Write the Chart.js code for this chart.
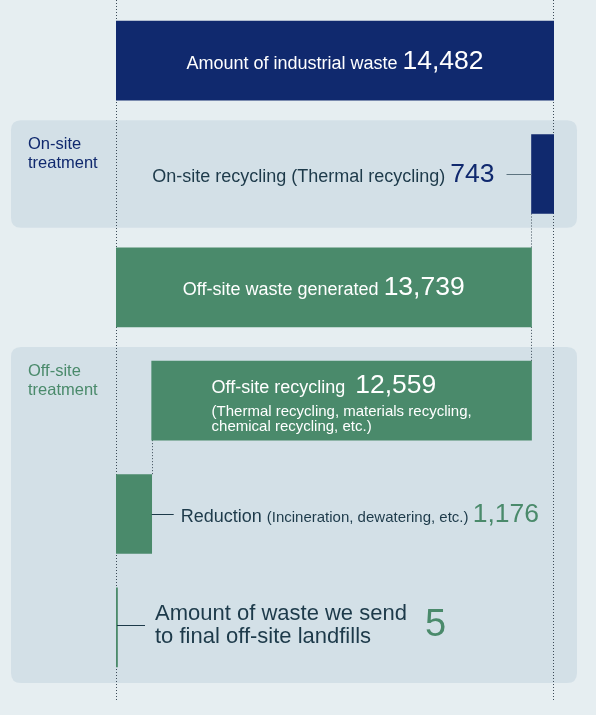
<!DOCTYPE html>
<html><head><meta charset="utf-8">
<script src="https://cdn.jsdelivr.net/npm/chart.js@4.4.1/dist/chart.umd.min.js"></script>
<style>html,body{margin:0;padding:0;background:#e6eef1;}canvas{display:block}</style>
</head><body>
<div style="width:596px;height:715px"><canvas id="c" width="596" height="715"></canvas></div>
<script>
// ---- data ----
const categories = ["Amount of industrial waste", "On-site recycling (Thermal recycling)", "Off-site waste generated", "Off-site recycling", "Reduction", "Amount of waste we send to final off-site landfills"];
const values = [14482, 743, 13739, 12559, 1176, 5];
const valueLabels = ["14,482", "743", "13,739", "12,559", "1,176", "5"];
const groupLabels = [["On-site", "treatment"], ["Off-site", "treatment"]];
const subLabels = ["(Thermal recycling, materials recycling,", "chemical recycling, etc.)"];
const reductionNote = "(Incineration, dewatering, etc.)";
const landfillLines = ["Amount of waste we send", "to final off-site landfills"];

// waterfall ranges derived from the values
const total = values[0];
const ranges = [
  [0, total],
  [total - values[1], total],
  [0, values[2]],
  [values[2] - values[3], values[2]],
  [values[2] - values[3] - values[4], values[2] - values[3]],
  [0, values[5]]
];

const NAVY = '#10296e', GREEN = '#4a8a6b', DARK = '#1d3a4a', BG = '#e6eef1', PANEL = '#d3e0e7', DOT = '#3b4a57';
const F = (s) => s + 'px "Liberation Sans", Arial, Helvetica, sans-serif';

function runsWidth(ctx, runs) {
  let w = 0;
  runs.forEach(r => { ctx.font = r.font; w += ctx.measureText(r.t).width; });
  return w;
}
function textWidth(ctx, t, font) { ctx.font = font; return ctx.measureText(t).width; }
function drawRuns(ctx, runs, x, y, align) {
  const w = runsWidth(ctx, runs);
  let cx = align === 'center' ? x - w / 2 : align === 'right' ? x - w : x;
  ctx.textAlign = 'left'; ctx.textBaseline = 'alphabetic';
  runs.forEach(r => { ctx.font = r.font; ctx.fillStyle = r.color; ctx.fillText(r.t, cx, y); cx += ctx.measureText(r.t).width; });
}
function roundRect(ctx, x, y, w, h, r) {
  ctx.beginPath();
  ctx.moveTo(x + r, y); ctx.lineTo(x + w - r, y); ctx.quadraticCurveTo(x + w, y, x + w, y + r);
  ctx.lineTo(x + w, y + h - r); ctx.quadraticCurveTo(x + w, y + h, x + w - r, y + h);
  ctx.lineTo(x + r, y + h); ctx.quadraticCurveTo(x, y + h, x, y + h - r);
  ctx.lineTo(x, y + r); ctx.quadraticCurveTo(x, y, x + r, y); ctx.closePath();
}

const deco = {
  id: 'deco',
  beforeDraw(chart) {
    const ctx = chart.ctx;
    ctx.save(); ctx.fillStyle = BG; ctx.fillRect(0, 0, chart.width, chart.height); ctx.restore();
  },
  beforeDatasetsDraw(chart) {
    const ctx = chart.ctx, xs = chart.scales.x, ys = chart.scales.y;
    const band = ys.getPixelForValue(1) - ys.getPixelForValue(0);
    const bars = chart.getDatasetMeta(0).data;
    ctx.save();
    const panels = [{ from: 1, to: 1, label: groupLabels[0], color: NAVY, pb: 3 }, { from: 3, to: 5, label: groupLabels[1], color: GREEN, pb: 1 }];
    panels.forEach(p => {
      const top = ys.getPixelForValue(p.from) - band / 2 + 3;
      const bottom = ys.getPixelForValue(p.to) + band / 2 - p.pb;
      ctx.fillStyle = PANEL;
      roundRect(ctx, 11, top, 566, bottom - top, 10); ctx.fill();
      ctx.fillStyle = p.color; ctx.font = F(16.5); ctx.textAlign = 'left'; ctx.textBaseline = 'alphabetic';
      ctx.fillText(p.label[0], 28, top + 29);
      ctx.fillText(p.label[1], 28, top + 48);
    });
    // dotted guide lines
    ctx.setLineDash([1, 2]); ctx.strokeStyle = DOT; ctx.lineWidth = 1;
    const xl = Math.round(xs.getPixelForValue(0)) + 0.5;
    const xr = Math.round(xs.getPixelForValue(total)) - 0.5;
    [xl, xr].forEach(x => { ctx.beginPath(); ctx.moveTo(x, 0); ctx.lineTo(x, 701); ctx.stroke(); });
    const conn = [[1, ranges[1][0]], [2, ranges[2][1]], [3, ranges[3][0]]];
    conn.forEach(([i, v]) => {
      let x = Math.round(xs.getPixelForValue(v)) + (v === ranges[3][0] ? 0.5 : -0.5);
      const b = bars[i], n = bars[i + 1];
      ctx.beginPath(); ctx.moveTo(x, b.y + b.height / 2); ctx.lineTo(x, n.y - n.height / 2); ctx.stroke();
    });
    ctx.restore();
  },
  afterDatasetsDraw(chart) {
    const ctx = chart.ctx;
    const bars = chart.getDatasetMeta(0).data;
    ctx.save();
    // 0: total
    let b = bars[0];
    drawRuns(ctx, [{ t: categories[0] + ' ', font: F(18), color: '#fff' }, { t: valueLabels[0], font: F(26.5), color: '#fff' }], (b.x + b.base) / 2, b.y + 8, 'center');
    // 1: on-site recycling
    b = bars[1];
    const left1 = Math.min(b.x, b.base);
    drawRuns(ctx, [{ t: categories[1] + ' ', font: F(18), color: DARK }, { t: valueLabels[1], font: F(26.5), color: NAVY }], left1 - 37, b.y + 8, 'right');
    ctx.strokeStyle = '#5d7480'; ctx.lineWidth = 1; ctx.beginPath(); ctx.moveTo(left1 - 25, Math.round(b.y) + 0.5); ctx.lineTo(left1, Math.round(b.y) + 0.5); ctx.stroke();
    // 2: off-site generated
    b = bars[2];
    drawRuns(ctx, [{ t: categories[2] + ' ', font: F(18), color: '#fff' }, { t: valueLabels[2], font: F(26.5), color: '#fff' }], (b.x + b.base) / 2, b.y + 8, 'center');
    // 3: off-site recycling
    b = bars[3];
    const r1 = [{ t: categories[3] + '  ', font: F(18), color: '#fff' }, { t: valueLabels[3], font: F(26.5), color: '#fff' }];
    const wBlock = Math.max(runsWidth(ctx, r1), textWidth(ctx, subLabels[0], F(15)), textWidth(ctx, subLabels[1], F(15)));
    const bx = (b.x + b.base) / 2 - wBlock / 2;
    drawRuns(ctx, r1, bx, b.y - 8, 'left');
    ctx.font = F(15); ctx.fillStyle = '#fff'; ctx.textAlign = 'left';
    ctx.fillText(subLabels[0], bx, b.y + 15);
    ctx.fillText(subLabels[1], bx, b.y + 30);
    // 4: reduction
    b = bars[4];
    const r4 = Math.max(b.x, b.base);
    ctx.strokeStyle = DARK; ctx.lineWidth = 1; ctx.beginPath(); ctx.moveTo(r4, Math.round(b.y) + 0.5); ctx.lineTo(r4 + 22, Math.round(b.y) + 0.5); ctx.stroke();
    drawRuns(ctx, [{ t: categories[4] + ' ', font: F(18), color: DARK }, { t: reductionNote + ' ', font: F(15), color: DARK }, { t: valueLabels[4], font: F(26.5), color: GREEN }], r4 + 29, b.y + 8, 'left');
    // 5: landfill
    b = bars[5];
    const l5 = Math.min(b.x, b.base);
    ctx.strokeStyle = DARK; ctx.lineWidth = 1; ctx.beginPath(); ctx.moveTo(l5 + 1, Math.round(b.y) - 1.5); ctx.lineTo(l5 + 29, Math.round(b.y) - 1.5); ctx.stroke();
    ctx.font = F(22); ctx.fillStyle = DARK; ctx.textAlign = 'left';
    ctx.fillText(landfillLines[0], l5 + 39, b.y - 7);
    ctx.fillText(landfillLines[1], l5 + 39, b.y + 16);
    const w5 = Math.max(textWidth(ctx, landfillLines[0], F(22)), textWidth(ctx, landfillLines[1], F(22)));
    ctx.font = F(38); ctx.fillStyle = GREEN;
    ctx.fillText(valueLabels[5], l5 + 39 + w5 + 18, b.y + 9);
    ctx.restore();
  }
};

new Chart(document.getElementById('c'), {
  type: 'bar',
  data: {
    labels: categories,
    datasets: [{
      data: ranges,
      backgroundColor: [NAVY, NAVY, GREEN, GREEN, GREEN, GREEN],
      borderWidth: 0,
      barThickness: 79,
      minBarLength: 1.5
    }]
  },
  options: {
    indexAxis: 'y',
    responsive: false,
    animation: false,
    devicePixelRatio: 1,
    layout: { padding: { left: 116, right: 42, top: 4, bottom: 31 } },
    scales: {
      x: { display: false, min: 0, max: total },
      y: { display: false }
    },
    plugins: { legend: { display: false }, tooltip: { enabled: false } }
  },
  plugins: [deco]
});
</script>
</body></html>
